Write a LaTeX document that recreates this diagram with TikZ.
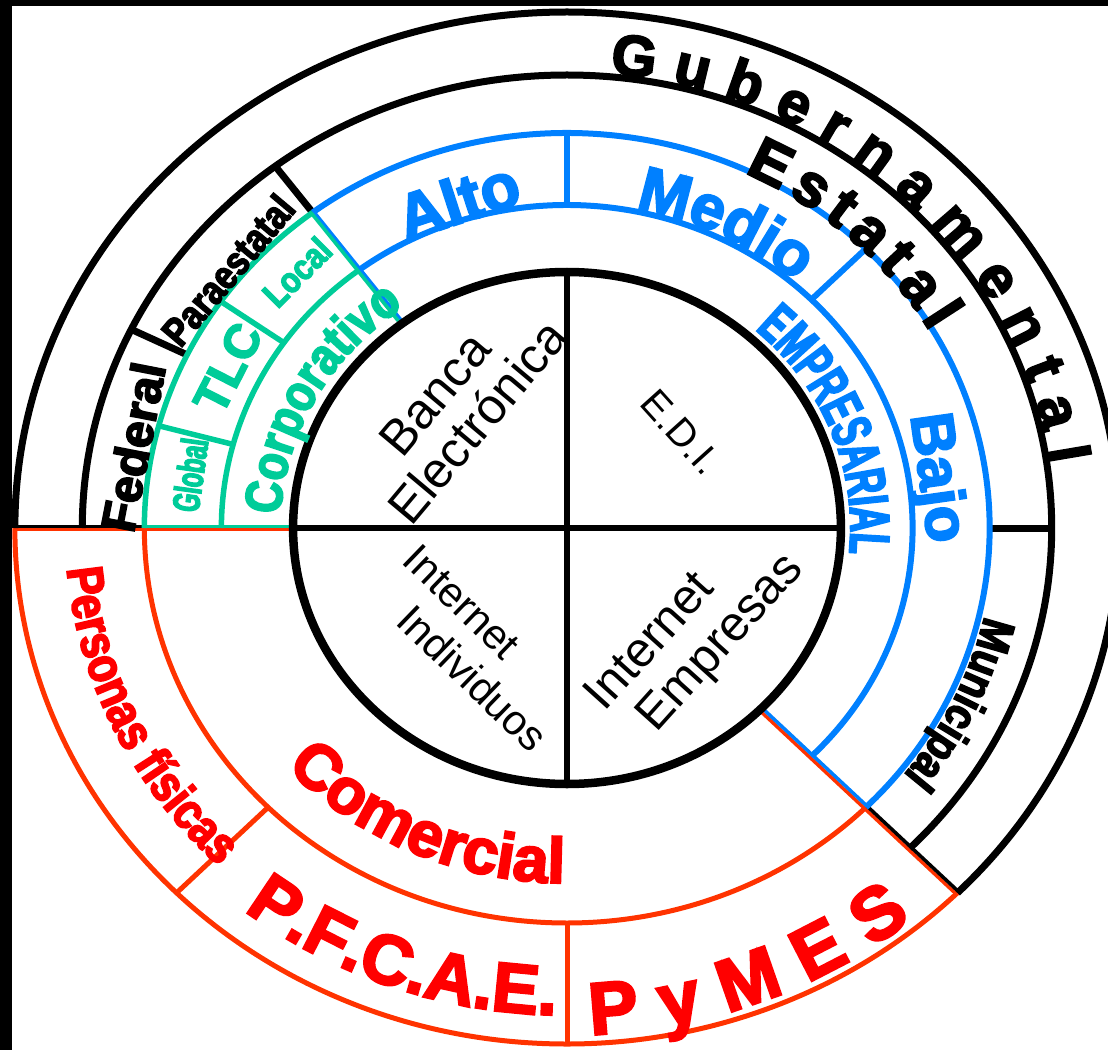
\documentclass[tikz,border=0pt]{standalone}
\usepackage{fontspec}
\setmainfont{Liberation Sans}[BoldFeatures={FakeBold=3.5}]
\newfontfamily\condfont{Liberation Sans}[FakeStretch=0.62, BoldFeatures={FakeBold=3.5}]
\newfontfamily\semifont{Liberation Sans}[FakeStretch=0.85, BoldFeatures={FakeBold=3.5}]
\usetikzlibrary{decorations.text}

\definecolor{empblue}{RGB}{0,128,255}
\definecolor{corpgreen}{RGB}{0,204,153}
\definecolor{comline}{RGB}{255,51,0}
\definecolor{comtext}{RGB}{255,0,0}

\newcommand\rCore{256}
\newcommand\rMid{323}
\newcommand\rRing{395}
\newcommand\rGov{453}
\newcommand\rOut{516}

\tikzset{
  blackline/.style={draw=black, line width=7pt},
  blueline/.style={draw=empblue, line width=6pt},
  greenline/.style={draw=corpgreen, line width=5.5pt},
  redline/.style={draw=comline, line width=5pt},
  quadlabel/.style={inner sep=0pt},
  ringlabel/.style={inner sep=0pt, font=\bfseries},
}

\begin{document}
\begin{tikzpicture}[x=1.07pt, y=1pt]
    \useasboundingbox (-567pt,-522pt) rectangle (541pt,528pt);
    \fill[black] (-567pt,522pt) rectangle (541pt,528pt);
    \fill[black] (-567pt,-522pt) rectangle (-555pt,528pt);

    \draw[redline] (180:\rOut) arc (180:315:\rOut);
    \draw[redline] (180:\rRing) arc (180:315:\rRing);
    \foreach \a in {225,270}
        \draw[redline] (\a:\rRing) -- (\a:\rOut);
    \draw[redline, line width=3.5pt] ([yshift=-1.7pt]180:\rOut) -- ([yshift=-1.7pt]180:\rCore);
    \draw[redline, line width=3.5pt] ([xshift=-1.2pt,yshift=-1.2pt]-45:\rOut) -- ([xshift=-1.2pt,yshift=-1.2pt]-45:\rCore);

    \draw[blackline] (180:\rOut) arc (180:-45:\rOut);
    \draw[blackline] (180:\rGov) arc (180:-45:\rGov);
    \foreach \a in {154,127,0}
        \draw[blackline] (\a:\rRing) -- (\a:\rGov);
    \draw[blackline, line width=3.5pt] ([yshift=1.7pt]180:\rOut) -- ([yshift=1.7pt]180:\rRing);
    \draw[blackline, line width=3.5pt] ([xshift=1.2pt,yshift=1.2pt]-45:\rOut) -- ([xshift=1.2pt,yshift=1.2pt]-45:\rRing);

    \draw[blueline] (127:\rRing) arc (127:-45:\rRing);
    \draw[blueline] (127:\rMid) arc (127:-45:\rMid);
    \foreach \a in {90,45}
        \draw[blueline] (\a:\rMid) -- (\a:\rRing);
    \draw[blueline, line width=3.5pt] ([xshift=1.2pt,yshift=1.2pt]-45:\rRing) -- ([xshift=1.2pt,yshift=1.2pt]-45:\rCore);
    \draw[blueline, line width=3.5pt] ([xshift=1.1pt,yshift=0.8pt]127:\rRing) -- ([xshift=1.1pt,yshift=0.8pt]127:\rCore);

    \draw[greenline] (127:\rRing) arc (127:180:\rRing);
    \draw[greenline] (127:\rMid) arc (127:180:\rMid);
    \foreach \a in {145,165}
        \draw[greenline] (\a:\rMid) -- (\a:\rRing);
    \draw[greenline, line width=3.5pt] ([xshift=-1.1pt,yshift=-0.8pt]127:\rRing) -- ([xshift=-1.1pt,yshift=-0.8pt]127:\rCore);
    \draw[greenline, line width=3.5pt] ([yshift=1.7pt]180:\rRing) -- ([yshift=1.7pt]180:\rCore);

    \draw[blackline, line width=5.5pt] (90:\rCore) -- (-90:\rCore);
    \draw[blackline, line width=5.5pt] (180:\rCore) -- (0:\rCore);
    \draw[blackline, line width=8.5pt] (0,0) circle (\rCore);

    \node[quadlabel, rotate=50, font=\fontsize{50}{50}\selectfont] (banca) at (-132pt,134pt) {Banca};
    \node[quadlabel, rotate=50, font=\fontsize{50}{50}\selectfont] (electronica) at (-90pt,107pt) {Electrónica};
    \node[quadlabel, rotate=-48, font=\fontsize{39}{39}\selectfont] (edi) at (114pt,96pt) {E.D.I.};
    \node[quadlabel, rotate=-44, font=\fontsize{42}{42}\selectfont] (netind) at (-105pt,-74pt) {Internet};
    \node[quadlabel, rotate=-44, font=\fontsize{42}{42}\selectfont] (individuos) at (-94pt,-150pt) {Individuos};
    \node[quadlabel, rotate=48, font=\fontsize{49}{49}\selectfont] (netemp) at (81pt,-112pt) {Internet};
    \node[quadlabel, rotate=48, font=\fontsize{49}{49}\selectfont] (empresas) at (155pt,-116pt) {Empresas};

    \node[ringlabel, rotate=18, text=empblue, font=\bfseries\fontsize{64}{64}\selectfont] (alto) at (-109pt,328pt) {Alto};
    \node[ringlabel, rotate=-82, text=empblue, font=\bfseries\fontsize{60}{60}\selectfont] (bajo) at (368pt,50pt) {Bajo};
    \node[ringlabel, rotate=63, text=corpgreen, font=\bfseries\fontsize{48}{48}\selectfont] (tlc) at (-339pt,160pt) {TLC};
    \node[ringlabel, rotate=45, text=corpgreen, font=\semifont\bfseries\fontsize{36}{36}\selectfont] (local) at (-270pt,256pt) {Local};
    \node[ringlabel, rotate=82, text=corpgreen, font=\condfont\bfseries\fontsize{38}{38}\selectfont] (global) at (-377pt,53pt) {Global};
    \node[ringlabel, rotate=79, font=\bfseries\fontsize{48}{48}\selectfont] (federal) at (-434pt,81pt) {Federal};
    \node[ringlabel, rotate=50, font=\semifont\bfseries\fontsize{40}{40}\selectfont] (paraestatal) at (-339pt,258pt) {Paraestatal};

    \path[decorate, decoration={text along path, text align=fit to path,
        text={|\bfseries\fontsize{58}{58}\selectfont|Gubernamental}}] (85:456) arc (85:8:456);
    \path[decorate, decoration={text along path, text align=fit to path,
        text={|\bfseries\fontsize{60}{60}\selectfont|Estatal}}] (65:392) arc (65:30:392);
    \path[decorate, decoration={text along path, text align=center,
        text={|\color{empblue}\bfseries\fontsize{62}{62}\selectfont|Medio}}] (95:326) arc (95:32:326);
    \path[decorate, decoration={text along path, text align=center,
        text={|\color{empblue}\condfont\bfseries\fontsize{56}{56}\selectfont|EMPRESARIAL}}] (70:265) arc (70:-28:265);
    \path[decorate, decoration={text along path, text align=center,
        text={|\semifont\bfseries\fontsize{46}{46}\selectfont|Municipal}}] (10:400) arc (10:-60:400);
    \path[decorate, decoration={text along path, text align=center,
        text={|\color{corpgreen}\semifont\bfseries\fontsize{52}{52}\selectfont|Corporativo}}] (200:268) arc (200:103:268);
    \path[decorate, decoration={text along path, text align=center,
        text={|\color{comtext}\bfseries\fontsize{64}{64}\selectfont|Comercial}}] (200:355) arc (200:291:355);
    \path[decorate, decoration={text along path, text align=center,
        text={|\color{comtext}\bfseries\fontsize{70}{70}\selectfont|P.F.C.A.E.}}] (216:487) arc (216:284:487);
    \path[decorate, decoration={text along path, text align=fit to path,
        text={|\color{comtext}\bfseries\fontsize{74}{74}\selectfont|PyMES}}] (272.5:507) arc (272.5:309.5:507);
    \path[decorate, decoration={text along path, text align=center,
        text={|\color{comtext}\semifont\bfseries\fontsize{51}{51}\selectfont|Personas físicas}}] (160:469) arc (160:250:469);
\end{tikzpicture}
\end{document}
